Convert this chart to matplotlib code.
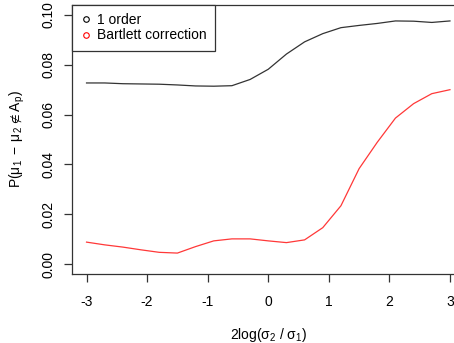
import numpy as np
import matplotlib
matplotlib.use("Agg")
import matplotlib.pyplot as plt

plt.rcParams['font.family'] = ['Liberation Sans', 'DejaVu Sans']
plt.rcParams['mathtext.fontset'] = 'custom'
plt.rcParams['mathtext.rm'] = 'Liberation Sans'
plt.rcParams['mathtext.it'] = 'Liberation Sans:italic'

# x grid: 2log(sigma2/sigma1)
log_ratio = [-3.0, -2.7, -2.4, -2.1, -1.8, -1.5, -1.2, -0.9, -0.6, -0.3, 0.0,
             0.3, 0.6, 0.9, 1.2, 1.5, 1.8, 2.1, 2.4, 2.7, 3.0]
first_order = [0.0727, 0.0727, 0.0724, 0.0723, 0.0722, 0.0719, 0.0715, 0.0714,
               0.0716, 0.0741, 0.0782, 0.0843, 0.0892, 0.0925, 0.0949, 0.0958,
               0.0966, 0.0976, 0.0975, 0.0970, 0.0976]
bartlett = [0.0088, 0.0077, 0.0068, 0.0057, 0.0047, 0.0044, 0.0070, 0.0093,
            0.0101, 0.0101, 0.0093, 0.0086, 0.0097, 0.0146, 0.0234, 0.0383,
            0.0489, 0.0586, 0.0644, 0.0684, 0.0700]
x_ticks = [-3, -2, -1, 0, 1, 2, 3]
y_ticks = [0.00, 0.02, 0.04, 0.06, 0.08, 0.10]

fig = plt.figure(figsize=(4.54, 3.43), dpi=100)
ax = fig.add_axes([72 / 454, 69 / 343, 392.5 / 454, 269 / 343])

ax.plot(log_ratio, first_order, color="#333333", lw=0.9)
ax.plot(log_ratio, bartlett, color="#ff3838", lw=0.9)

ax.set_xlim(-3.24, 3.24)
ax.set_ylim(-0.004, 0.104)
ax.set_xticks(x_ticks)
ax.set_xticklabels([str(t) for t in x_ticks])
ax.set_yticks(y_ticks)
ax.set_yticklabels(["%.2f" % t for t in y_ticks], rotation=90, va="center")
ax.tick_params(labelsize=10, length=6, width=0.9, color="#333333")
ax.tick_params(axis="x", pad=9)
ax.tick_params(axis="y", pad=6)

for s in ax.spines.values():
    s.set_linewidth(0.9)
    s.set_color("#333333")

ax.set_xlabel(r"2log($\mathrm{σ_2\ /\ σ_1}$)", fontsize=10, labelpad=12)
ax.set_ylabel(r"P($\mathrm{μ_1\;−\;μ_2\;∉\;A_p}$)", fontsize=10, labelpad=10)

h1, = ax.plot([], [], 'o', mfc='none', mec='black', ms=4, mew=0.8)
h2, = ax.plot([], [], 'o', mfc='none', mec='red', ms=4, mew=0.8)
leg = ax.legend([h1, h2], ["1 order", "Bartlett correction"], loc="upper left",
                fontsize=10, borderaxespad=0, fancybox=False, handlelength=0.8,
                handletextpad=0.4, borderpad=0.6, labelspacing=0.08,
                framealpha=1)
leg.get_frame().set_edgecolor("#333333")
leg.get_frame().set_linewidth(0.9)

fig.savefig("out.png", dpi=100)
